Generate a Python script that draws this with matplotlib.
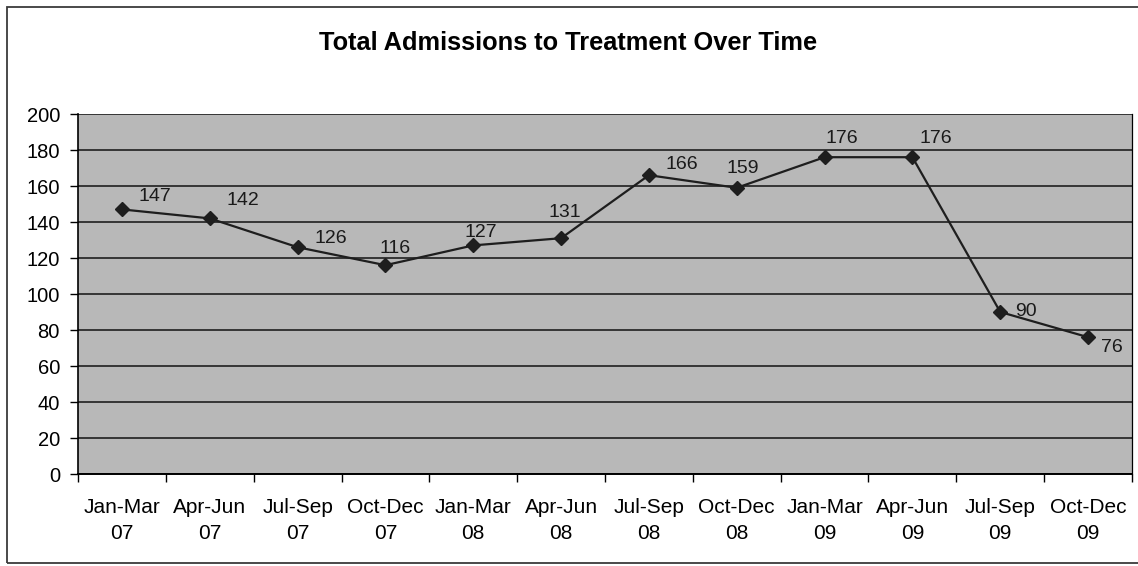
import matplotlib
matplotlib.use('Agg')
import matplotlib.pyplot as plt
from matplotlib.patches import Rectangle

periods = ['Jan-Mar\n07', 'Apr-Jun\n07', 'Jul-Sep\n07', 'Oct-Dec\n07',
           'Jan-Mar\n08', 'Apr-Jun\n08', 'Jul-Sep\n08', 'Oct-Dec\n08',
           'Jan-Mar\n09', 'Apr-Jun\n09', 'Jul-Sep\n09', 'Oct-Dec\n09']
admissions = [147, 142, 126, 116, 127, 131, 166, 159, 176, 176, 90, 76]

# where each value label sits relative to its marker (pixels, up is +)
label_offsets = [(33, 13), (33, 18), (33, 9), (10, 17), (8, 13), (4, 26),
                 (33, 11), (6, 19), (17, 19), (23, 19), (26, 1), (24, -10)]

plt.rcParams['font.family'] = ['Liberation Sans', 'DejaVu Sans']

W, H = 1138, 566
fig = plt.figure(figsize=(W / 100, H / 100), dpi=100)
fig.patches.append(Rectangle((7 / W, 3 / H), 1140 / W, 1 - 10 / H,
                             transform=fig.transFigure, fill=False,
                             edgecolor='#3a3a3a', linewidth=1.3))

ax = fig.add_axes([78 / W, (H - 474) / H, 1054 / W, 360 / H])
ax.set_facecolor('#b8b8b8')

x = list(range(len(admissions)))
ax.plot(x, admissions, color='#1e1e1e', linewidth=1.6, marker='D',
        markersize=7, zorder=3)
for i, v in enumerate(admissions):
    dx, dy = label_offsets[i]
    ax.annotate(str(v), (i, v), xytext=(dx, dy), textcoords='offset pixels',
                ha='center', va='center', fontsize=14, color='#1a1a1a')

ax.set_xlim(-0.5, len(admissions) - 0.5)
ax.set_ylim(0, 200)
ax.set_yticks(range(0, 201, 20))
ax.yaxis.grid(True, color='#111111', linewidth=1.1)
ax.set_axisbelow(True)

ax.set_xticks(x)
ax.set_xticklabels(periods, fontsize=15, linespacing=1.5)
ax.set_xticks([i - 0.5 for i in range(len(admissions) + 1)], minor=True)
ax.tick_params(axis='x', which='major', length=0, pad=17)
ax.tick_params(axis='x', which='minor', length=6, width=1, direction='out')
ax.tick_params(axis='y', length=6, width=1, labelsize=14.5, pad=7)

ax.spines['top'].set_visible(False)
ax.spines['right'].set_linewidth(0.9)
ax.spines['left'].set_linewidth(1.2)
ax.spines['bottom'].set_linewidth(1.4)

fig.text(568 / W, 1 - 43 / H, 'Total Admissions to Treatment Over Time',
         ha='center', va='center', fontsize=18.3, fontweight='bold')

fig.savefig('out.png', dpi=100)
